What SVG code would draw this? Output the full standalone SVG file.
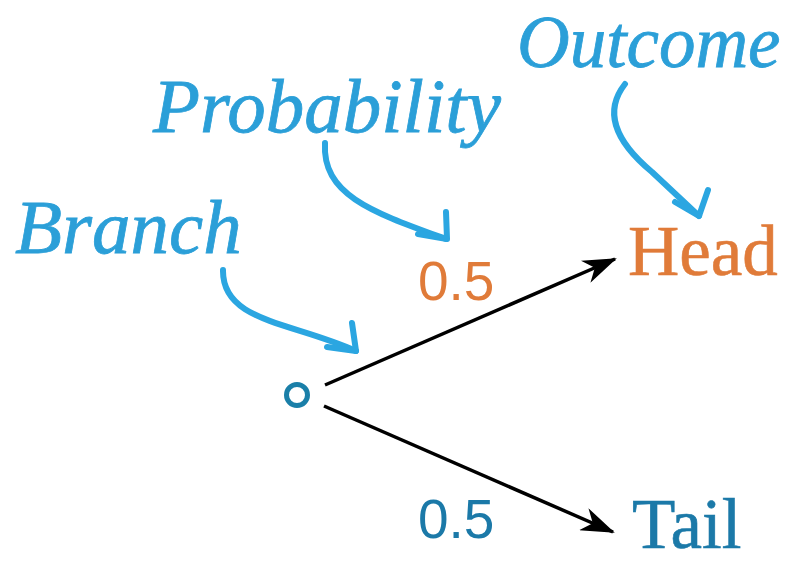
<svg xmlns="http://www.w3.org/2000/svg" width="798" height="563" viewBox="0 0 798 563">
<style>
.lbl{font-family:"Liberation Serif",serif;font-style:italic;font-size:77px;fill:#2b9fd8;stroke:#2b9fd8;stroke-width:0.8}
.out{font-family:"Liberation Serif",serif;font-size:71px;stroke-width:0.6}
.num{font-family:"Liberation Sans",Arial,sans-serif;font-size:55px}
.call{fill:none;stroke:#2ba6e1;stroke-width:6;stroke-linecap:round;stroke-linejoin:round}
.edge{fill:none;stroke:#000;stroke-width:3.5}
</style>
<defs>
<marker id="ah" viewBox="0 0 34 24" refX="32" refY="12" markerWidth="34" markerHeight="24" markerUnits="userSpaceOnUse" orient="auto">
<path d="M0,0 L34,12 L0,24 L10,12 Z" fill="#000"/>
</marker>
</defs>
<rect width="798" height="563" fill="#fff"/>
<g id="label-outcome"><text class="lbl" x="517" y="67" style="font-size:73px">Outcome</text></g>
<g id="label-probability"><text class="lbl" x="153" y="132">Probability</text></g>
<g id="label-branch"><text class="lbl" x="15" y="253">Branch</text></g>
<g id="node-root"><circle cx="297" cy="395" r="10.5" fill="none" stroke="#1a7fa8" stroke-width="5"/></g>
<g id="node-head"><text class="out" x="628" y="275" fill="#e07b39" stroke="#e07b39">Head</text></g>
<g id="node-tail"><text class="out" x="632" y="548" fill="#1b79a8" stroke="#1b79a8">Tail</text></g>
<g id="prob-head"><text class="num" x="418" y="300" fill="#e07b39">0.5</text></g>
<g id="prob-tail"><text class="num" x="418" y="538" fill="#1b79a8">0.5</text></g>
<g id="connectors">
<path class="edge" d="M325,385 L615,259" marker-end="url(#ah)"/>
<path class="edge" d="M324,406 L613,532" marker-end="url(#ah)"/>
<path class="call" d="M325,143 C322,195 372,212 446,239"/>
<path class="call" d="M446,212 L447,239 L418,234"/>
<path class="call" d="M223,270 C222,322 292,322 356,351"/>
<path class="call" d="M352,323 L356,351 L327,347"/>
<path class="call" d="M625,84 C603,112 616,142 652,172 L699,216"/>
<path class="call" d="M708,190 L699,216 L675,202"/>
</g>
</svg>
